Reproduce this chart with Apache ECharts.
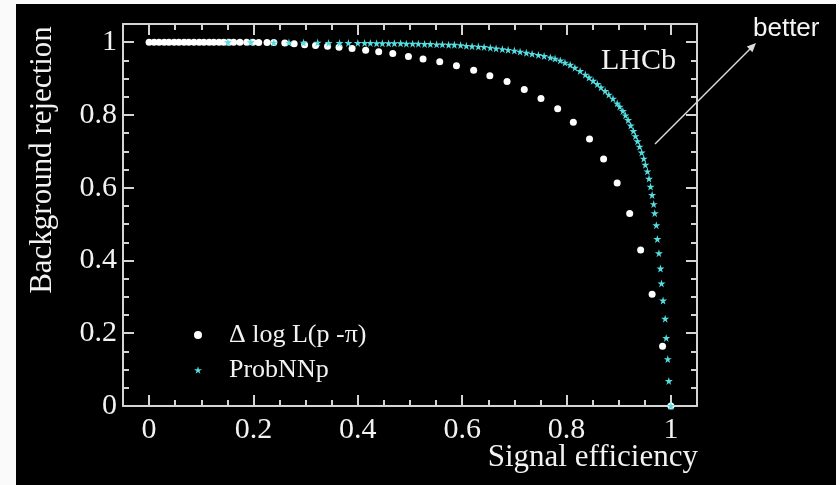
<!DOCTYPE html>
<html>
<head>
<meta charset="utf-8">
<script src="https://cdn.jsdelivr.net/npm/echarts@6/dist/echarts.min.js"></script>
<style>
  html, body { margin: 0; padding: 0; background: #fafafa; }
  #chart { position: absolute; left: 16px; top: 4px; width: 820px; height: 481px; background: #000; }
</style>
</head>
<body>
<div id="chart"></div>
<script>
// Delta log L(p - pi) curve (white dots)
const dllEff = [0, 0.0096, 0.019, 0.029, 0.038, 0.048, 0.057, 0.067, 0.076, 0.086, 0.096, 0.105, 0.115, 0.124, 0.134, 0.143,
  0.153, 0.162, 0.174, 0.187, 0.199, 0.210, 0.226, 0.239, 0.260, 0.278, 0.298, 0.319, 0.342, 0.364, 0.389, 0.415,
  0.440, 0.467, 0.497, 0.525, 0.557, 0.589, 0.622, 0.653, 0.686, 0.719, 0.751, 0.783, 0.813, 0.844, 0.871, 0.897,
  0.921, 0.942, 0.964, 0.984, 1.0]
const dllRej = [1, 1, 1, 1, 1, 1, 1, 1, 1, 1, 1, 1, 1, 1, 1, 1,
  1, 1, 1, 1, 1, 0.999, 0.999, 0.999, 0.998, 0.996, 0.993, 0.991, 0.989, 0.986, 0.983, 0.978,
  0.974, 0.969, 0.961, 0.954, 0.946, 0.935, 0.923, 0.908, 0.892, 0.870, 0.845, 0.817, 0.780, 0.734, 0.679, 0.613,
  0.529, 0.429, 0.307, 0.164, 0]

// ProbNNp curve (cyan stars)
const nnEff = [0.151, 0.195, 0.239, 0.268, 0.296, 0.323, 0.344, 0.365, 0.382, 0.400, 0.413, 0.424, 0.436,
  0.447, 0.459, 0.470, 0.482, 0.493, 0.505, 0.516, 0.528, 0.539, 0.551, 0.562, 0.574, 0.585, 0.597, 0.608, 0.619,
  0.631, 0.642, 0.654, 0.665, 0.677, 0.688, 0.700, 0.711, 0.723, 0.734, 0.746, 0.757, 0.769, 0.778, 0.788, 0.797,
  0.807, 0.816, 0.826, 0.836, 0.843, 0.851, 0.859, 0.866, 0.874, 0.881, 0.889, 0.897, 0.902, 0.908, 0.913, 0.918,
  0.923, 0.928, 0.932, 0.936, 0.940, 0.944, 0.948, 0.951, 0.955, 0.958, 0.961, 0.964, 0.967, 0.969, 0.972, 0.974,
  0.977, 0.980, 0.982, 0.985, 0.989, 0.991, 0.994, 0.996, 1.0]
const nnRej = [1, 1, 0.999, 0.999, 0.999, 0.999, 0.998, 0.998, 0.998, 0.998, 0.998, 0.998, 0.997,
  0.997, 0.997, 0.997, 0.997, 0.996, 0.996, 0.996, 0.995, 0.995, 0.994, 0.994, 0.993, 0.993, 0.992, 0.990, 0.989,
  0.988, 0.987, 0.985, 0.983, 0.981, 0.979, 0.977, 0.974, 0.971, 0.968, 0.965, 0.962, 0.958, 0.955, 0.950, 0.944,
  0.938, 0.930, 0.921, 0.911, 0.903, 0.894, 0.885, 0.876, 0.866, 0.856, 0.845, 0.832, 0.823, 0.811, 0.799, 0.786,
  0.771, 0.756, 0.742, 0.728, 0.713, 0.697, 0.680, 0.663, 0.645, 0.625, 0.603, 0.580, 0.555, 0.530, 0.497, 0.459,
  0.420, 0.378, 0.337, 0.290, 0.240, 0.187, 0.129, 0.069, 0]

const majorTicks = [0, 0.2, 0.4, 0.6, 0.8, 1]
const minorTicks = [0.05, 0.1, 0.15, 0.25, 0.3, 0.35, 0.45, 0.5, 0.55, 0.65, 0.7, 0.75, 0.85, 0.9, 0.95]

const serif = "'Liberation Serif', 'Times New Roman', serif"
const axisColor = '#d4d4d4'
const textColor = '#f2f2f2'
const cyan = '#55dde0'
const star = 'path://M50,0 L61,35 L98,35 L68,57 L79,91 L50,70 L21,91 L32,57 L2,35 L39,35 Z'

function makeAxis(position, ticks, len, showLine, showLabel) {
    return {
        type: 'value',
        position: position,
        min: position === 'top' || position === 'bottom' ? -0.05 : 0,
        max: 1.05,
        axisLine: { show: showLine, onZero: false, lineStyle: { color: axisColor, width: 2 } },
        axisTick: { show: true, inside: true, length: len, customValues: ticks, lineStyle: { color: axisColor, width: 2 } },
        axisLabel: {
            show: showLabel,
            customValues: majorTicks,
            color: textColor,
            fontFamily: serif,
            fontSize: 30,
            margin: position === 'bottom' ? 9 : 6
        },
        splitLine: { show: false },
        minorTick: { show: false }
    }
}

const myChart = echarts.init(document.getElementById('chart'))
const option = {
    backgroundColor: '#000',
    animation: false,
    grid: { left: 107, right: 139, top: 20, bottom: 79, outerBoundsMode: 'none' },
    xAxis: [
        makeAxis('bottom', majorTicks, 11, true, true),
        makeAxis('bottom', minorTicks, 6, false, false),
        makeAxis('top', majorTicks, 11, true, false),
        makeAxis('top', minorTicks, 6, false, false)
    ],
    yAxis: [
        makeAxis('left', majorTicks, 11, true, true),
        makeAxis('left', minorTicks, 6, false, false),
        makeAxis('right', majorTicks, 11, true, false),
        makeAxis('right', minorTicks, 6, false, false)
    ],
    legend: {
        orient: 'vertical',
        left: 173,
        top: 313,
        itemWidth: 8,
        itemHeight: 8,
        itemGap: 9,
        selectedMode: false,
        textStyle: { color: textColor, fontFamily: serif, fontSize: 26, padding: [0, 0, 0, 22] },
        data: ['Δ log L(p -π)', 'ProbNNp']
    },
    series: [
        {
            name: 'Δ log L(p -π)',
            type: 'scatter',
            symbol: 'circle',
            symbolSize: 7,
            itemStyle: { color: '#ffffff', opacity: 1 },
            data: dllEff.map((x, i) => [x, dllRej[i]])
        },
        {
            name: 'ProbNNp',
            type: 'scatter',
            symbol: star,
            symbolSize: 8,
            itemStyle: { color: cyan, opacity: 1 },
            data: nnEff.map((x, i) => [x, nnRej[i]])
        }
    ],
    graphic: [
        {
            type: 'text', x: 27, y: 156, rotation: Math.PI / 2,
            style: { text: 'Background rejection', fill: textColor, font: '31px ' + serif, align: 'center', verticalAlign: 'middle' }
        },
        {
            type: 'text', x: 682, y: 454,
            style: { text: 'Signal efficiency', fill: textColor, font: '31px ' + serif, align: 'right', verticalAlign: 'middle' }
        },
        {
            type: 'text', x: 660, y: 57,
            style: { text: 'LHCb', fill: textColor, font: '30px ' + serif, align: 'right', verticalAlign: 'middle' }
        },
        {
            type: 'text', x: 737, y: 25,
            style: { text: 'better', fill: '#f5f5f5', font: "26px 'Liberation Sans', Arial, sans-serif", align: 'left', verticalAlign: 'middle' }
        },
        {
            type: 'line',
            shape: { x1: 639, y1: 140, x2: 737, y2: 42 },
            style: { stroke: '#dcdcdc', lineWidth: 1.5 }
        },
        {
            type: 'polygon',
            shape: { points: [[740, 39], [736.4, 48.2], [730.8, 42.6]] },
            style: { fill: '#dcdcdc' }
        }
    ]
}
myChart.setOption(option)
</script>
</body>
</html>
